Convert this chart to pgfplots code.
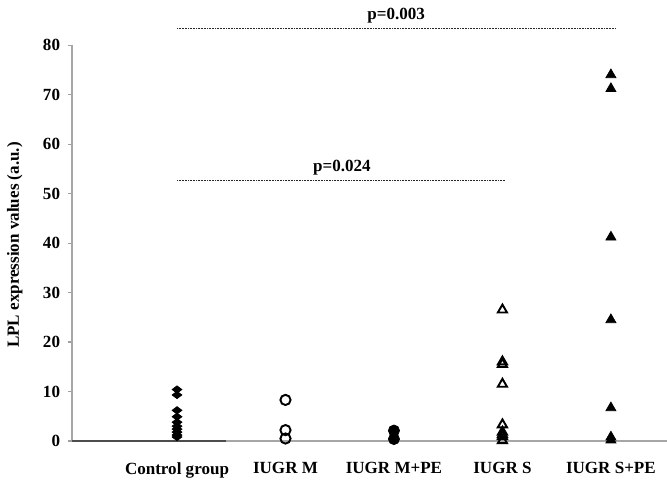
\documentclass[border=0pt]{standalone}
\usepackage{fontspec}
\setmainfont{Liberation Serif}
\usepackage{pgfplots}
\pgfplotsset{compat=1.18}

\begin{document}
\begin{tikzpicture}[x=0.02cm,y=0.02cm]
% frame of the reference picture, in its pixels (axis origin at 72,441)
\path[use as bounding box] (-72,-53) rectangle (595,441);
\begin{axis}[
    scale only axis,
    width=11.9cm,
    height=7.92cm,
    xmin=0.032, xmax=5.516,
    ymin=0, ymax=80,
    axis lines*=left,
    axis line style={draw=gray!70, line width=0.6pt},
    clip=false,
    font=\fontsize{9.7}{11}\selectfont\bfseries,
    /pgf/number format/assume math mode=true,
    ytick={0,10,...,80},
    ytick style={draw=gray!75, line width=0.6pt},
    tick align=outside,
    major tick length=0.08cm,
    yticklabel style={xshift=-1pt},
    xtick={1,2,3,4,5},
    xticklabels={Control group,IUGR M,IUGR M+PE,IUGR S,IUGR S+PE},
    xtick style={draw=none},
    xticklabel style={yshift=-0.22cm},
    ylabel={LPL expression values (a.u.)},
    ylabel style={at={(axis description cs:-0.096,0.495)}, anchor=center, rotate=0},
]
% darker stretch of the baseline under the control group
\addplot[gray!60!black, line width=0.6pt, mark=none] coordinates {(0.032,0) (1.45,0)};
% control group
\addplot[only marks, mark=diamond*, mark size=2.8pt, mark options={rotate=90, fill=black, draw=black}]
coordinates {(1,10.4) (1,9.3) (1,6.2) (1,4.9) (1,3.8) (1,3.0) (1,2.4) (1,1.8) (1,1.2) (1,0.8)};
% IUGR M
\addplot[only marks, mark=o, mark size=2.9pt, mark options={draw=black, line width=1.1pt}]
coordinates {(2,8.3) (2,2.2) (2,0.5)};
% IUGR M+PE
\addplot[only marks, mark=*, mark size=3.2pt, mark options={fill=black, draw=black}]
coordinates {(3,2.1) (3,0.4)};
% IUGR S
\addplot[only marks, mark=triangle, mark size=3pt, mark options={draw=black, line width=1.1pt}]
coordinates {(4,26.5) (4,16.0) (4,15.5) (4,11.5) (4,3.3) (4,1.8) (4,1.3) (4,0.9) (4,0.1)};
% IUGR S+PE
\addplot[only marks, mark=triangle*, mark size=3.3pt, mark options={fill=black, draw=black}]
coordinates {(5,74.0) (5,71.2) (5,41.2) (5,24.5) (5,6.7) (5,0.8) (5,0.2)};

% significance bars
\addplot[black!85, line width=0.7pt, dash pattern=on 0.5pt off 0.4pt, mark=none]
coordinates {(1,83.4) (5.05,83.4)};
\addplot[black!85, line width=0.7pt, dash pattern=on 0.5pt off 0.4pt, mark=none]
coordinates {(1,52.7) (4.03,52.7)};
\node[anchor=south, inner sep=1pt] at (axis cs:3.02,84.0) {p=0.003};
\node[anchor=south, inner sep=1pt] at (axis cs:2.52,53.3) {p=0.024};
\end{axis}
\end{tikzpicture}
\end{document}
